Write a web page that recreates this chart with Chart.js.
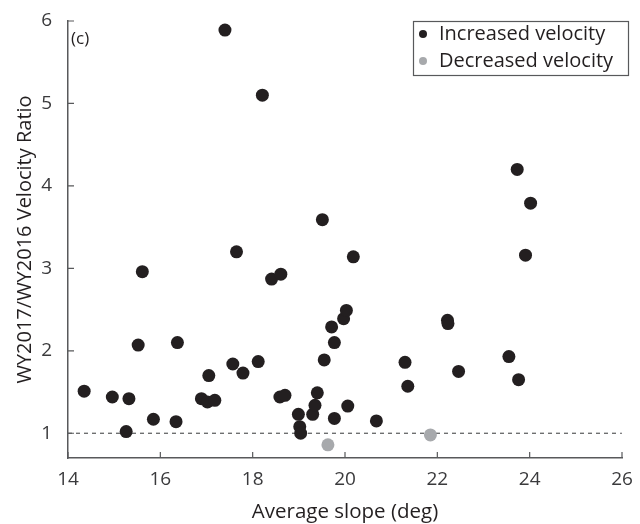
<!DOCTYPE html>
<html>
<head>
<meta charset="utf-8">
<script src="https://cdn.jsdelivr.net/npm/chart.js@4.4.1/dist/chart.umd.min.js"></script>
<style>
  html, body { margin: 0; padding: 0; background: #fff; }
  #wrap { width: 640px; height: 524px; }
</style>
</head>
<body>
<div id="wrap"><canvas id="chart" width="640" height="524"></canvas></div>
<script>
// ---------- data ----------
var incX = [17.40, 18.21, 19.51, 15.61, 15.52, 16.37, 14.35, 14.96, 15.32, 15.26,
            15.85, 16.34, 17.65, 18.41, 18.61, 20.18, 17.05, 17.57, 17.79, 18.12,
            16.89, 17.02, 17.18, 18.59, 18.70, 18.99, 19.02, 19.04, 19.30, 19.35,
            19.40, 19.55, 19.77, 19.77, 19.71, 19.97, 20.03, 20.06, 21.30, 21.36,
            20.68, 22.22, 22.23, 22.46, 23.55, 23.76, 23.73, 24.02, 23.91];
var incY = [5.89, 5.10, 3.59, 2.96, 2.07, 2.10, 1.51, 1.44, 1.42, 1.02,
            1.17, 1.14, 3.20, 2.87, 2.93, 3.14, 1.70, 1.84, 1.73, 1.87,
            1.42, 1.38, 1.40, 1.44, 1.46, 1.23, 1.08, 1.00, 1.23, 1.34,
            1.49, 1.89, 1.18, 2.10, 2.29, 2.39, 2.49, 1.33, 1.86, 1.57,
            1.15, 2.37, 2.33, 1.75, 1.93, 1.65, 4.20, 3.79, 3.16];
var decX = [19.63, 21.85];
var decY = [0.86, 0.98];

var refX = [14, 26];
var refY = [1, 1];

var xTicks = [14, 16, 18, 20, 22, 24, 26];
var yTicks = [1, 2, 3, 4, 5, 6];

var seriesLabels = ["Increased velocity", "Decreased velocity"];
var panelLabel = "(c)";

// ---------- styling ----------
var FONT = "'Open Sans', sans-serif";
var black = "#231f20";
var grey = "#a7a9ac";
var axisColor = "#58595b";
var textColor = "#3a3a3c";

function toPoints(xs, ys) {
  return xs.map(function (x, i) { return { x: x, y: ys[i] }; });
}

// inward tick marks (MATLAB style), drawn from the library's scales
var innerTicks = {
  id: "innerTicks",
  afterDraw: function (chart) {
    var ctx = chart.ctx, a = chart.chartArea;
    var xs = chart.scales.x, ys = chart.scales.y;
    ctx.save();
    ctx.strokeStyle = axisColor;
    ctx.lineWidth = 1.2;
    ctx.beginPath();
    xs.ticks.forEach(function (t) {
      var px = xs.getPixelForValue(t.value);
      ctx.moveTo(px, a.bottom);
      ctx.lineTo(px, a.bottom - 6);
    });
    ys.ticks.forEach(function (t) {
      var py = ys.getPixelForValue(t.value);
      ctx.moveTo(a.left, py);
      ctx.lineTo(a.left + 6, py);
    });
    ctx.stroke();

    // panel label
    ctx.fillStyle = black;
    ctx.font = "17px " + FONT;
    ctx.textBaseline = "middle";
    ctx.textAlign = "left";
    ctx.fillText(panelLabel, a.left + 3, a.top + 18);
    ctx.restore();
  }
};

// boxed legend in the upper right
var boxLegend = {
  id: "boxLegend",
  afterDraw: function (chart) {
    var ctx = chart.ctx;
    var items = chart.data.datasets.filter(function (d) { return d.label; });
    var x0 = 413, y0 = 21, w = 215, h = 54;
    ctx.save();
    ctx.fillStyle = "#fff";
    ctx.fillRect(x0, y0, w, h);
    ctx.strokeStyle = axisColor;
    ctx.lineWidth = 1.2;
    ctx.strokeRect(x0 + 0.5, y0 + 0.5, w, h);
    ctx.font = "20px " + FONT;
    ctx.textBaseline = "middle";
    ctx.textAlign = "left";
    items.forEach(function (d, i) {
      var cy = y0 + 13 + i * 27;
      ctx.fillStyle = d.backgroundColor;
      ctx.beginPath();
      ctx.arc(x0 + 10, cy, 4, 0, Math.PI * 2);
      ctx.fill();
      ctx.fillStyle = black;
      ctx.fillText(d.label, x0 + 26, cy);
    });
    ctx.restore();
  }
};

new Chart(document.getElementById("chart"), {
  type: "scatter",
  data: {
    datasets: [
      {
        label: seriesLabels[0],
        data: toPoints(incX, incY),
        backgroundColor: black,
        borderColor: black,
        pointRadius: 6.5,
        borderWidth: 0,
        order: 0
      },
      {
        label: seriesLabels[1],
        data: toPoints(decX, decY),
        backgroundColor: grey,
        borderColor: grey,
        pointRadius: 6.5,
        borderWidth: 0,
        order: 1
      },
      {
        type: "line",
        data: toPoints(refX, refY),
        borderColor: axisColor,
        borderWidth: 1.2,
        borderDash: [4, 4],
        pointRadius: 0,
        fill: false,
        order: 10
      }
    ]
  },
  options: {
    responsive: false,
    animation: false,
    devicePixelRatio: 1,
    layout: { padding: { top: 21, right: 18, bottom: 0, left: 0 } },
    plugins: {
      legend: { display: false },
      tooltip: { enabled: false }
    },
    scales: {
      x: {
        type: "linear",
        min: 14,
        max: 26,
        afterBuildTicks: function (s) { s.ticks = xTicks.map(function (v) { return { value: v }; }); },
        afterFit: function (s) { s.height = 66; },
        grid: { display: false },
        border: { display: true, color: axisColor, width: 1.5 },
        ticks: { color: textColor, font: { family: FONT, size: 19 }, padding: 2, maxRotation: 0 },
        title: {
          display: true,
          text: "Average slope (deg)",
          color: black,
          font: { family: FONT, size: 20.5 },
          padding: { top: 7, bottom: 0 }
        }
      },
      y: {
        type: "linear",
        min: 0.7,
        max: 6,
        afterBuildTicks: function (s) { s.ticks = yTicks.map(function (v) { return { value: v }; }); },
        afterFit: function (s) { s.width = 68; },
        grid: { display: false },
        border: { display: true, color: axisColor, width: 1.5 },
        ticks: { color: textColor, font: { family: FONT, size: 19 }, padding: 8 },
        title: {
          display: true,
          text: "WY2017/WY2016 Velocity Ratio",
          color: black,
          font: { family: FONT, size: 20 },
          padding: { top: 13, bottom: 0 }
        }
      }
    }
  },
  plugins: [innerTicks, boxLegend]
});
</script>
</body>
</html>
